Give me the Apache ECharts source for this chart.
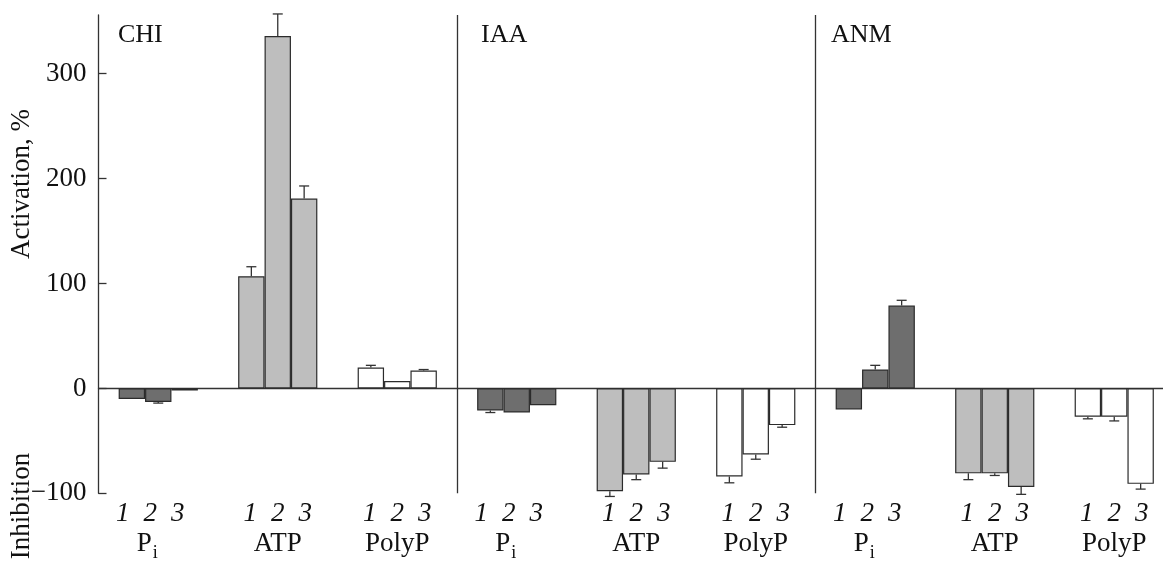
<!DOCTYPE html>
<html lang="en">
<head>
    <meta charset="UTF-8">
    <title>activation-inhibition</title>
    <script src="https://cdn.jsdelivr.net/npm/echarts@6/dist/echarts.min.js"></script>
    <style>
        html, body { margin: 0; padding: 0; background: #fff; }
    </style>
</head>
<body>
    <div id="main" style="width: 1163px;height:561px;"></div>

    <script>
        // panels (effectors) and the three substrates inside each panel
        var panels = ['CHI', 'IAA', 'ANM'];
        var groups = ['Pi', 'ATP', 'PolyP'];
        var categories = [];
        panels.forEach(function (p) {
            groups.forEach(function (g) { categories.push(p + '|' + g); });
        });

        // replicate 1, 2, 3 values per category (CHI Pi, ATP, PolyP, IAA ..., ANM ...)
        var rep1 = [-10, 107, 20, -21, -98, -84, -20, -81, -27];
        var rep2 = [-13, 336, 7, -23, -82, -63, 18, -81, -27];
        var rep3 = [-2, 181, 17, -16, -70, -35, 79, -94, -91];
        // error bar sizes
        var err1 = [0, 9, 2, 2, 5, 6, 0, 6, 2];
        var err2 = [1, 21, 0, 0, 5, 4.5, 4, 2, 4];
        var err3 = [0, 12, 1, 0, 6, 2, 5, 7, 5];

        var yTicks = [-100, 0, 100, 200, 300];
        var fills = ['#6e6e6e', '#bebebe', '#ffffff'];
        var font = 'Liberation Serif';
        var barW = 26.4;

        var myChart = echarts.init(document.getElementById('main'));

        function errData(vals, errs) {
            return vals.map(function (v, i) { return [i, v, errs[i]]; });
        }

        function errSeries(vals, errs, rep) {
            return {
                type: 'custom',
                xAxisIndex: 0,
                data: errData(vals, errs),
                encode: { x: 0, y: 1 },
                z: 3,
                silent: true,
                renderItem: function (params, api) {
                    var e = api.value(2);
                    if (!e) return;
                    var v = api.value(1);
                    var p0 = api.coord([api.value(0), v]);
                    var p1 = api.coord([api.value(0), v + (v < 0 ? -e : e)]);
                    var x = p0[0] + (rep - 1) * barW;
                    var st = { stroke: '#333', lineWidth: 1.3 };
                    return {
                        type: 'group',
                        children: [
                            { type: 'line', shape: { x1: x, y1: p0[1], x2: x, y2: p1[1] }, style: st },
                            { type: 'line', shape: { x1: x - 5, y1: p1[1], x2: x + 5, y2: p1[1] }, style: st }
                        ]
                    };
                }
            };
        }

        function barSeries(vals) {
            return {
                type: 'bar',
                data: vals,
                barWidth: barW,
                barGap: '0%',
                itemStyle: {
                    color: function (p) { return fills[p.dataIndex % 3]; },
                    borderColor: '#2b2b2b',
                    borderWidth: 1.2
                }
            };
        }

        var option = {
            animation: false,
            grid: { left: 98.5, top: 15, height: 478.3, width: 1075.5, outerBoundsMode: 'none', containLabel: false },
            xAxis: [
                {
                    type: 'category',
                    data: categories,
                    position: 'bottom',
                    axisLine: { show: false, onZero: false },
                    axisTick: { show: false },
                    splitLine: {
                        show: true,
                        interval: function (i) { return i === 3 || i === 6; },
                        lineStyle: { color: '#333', width: 1.3 }
                    },
                    axisLabel: {
                        interval: 0,
                        margin: 6,
                        color: '#111',
                        fontFamily: font,
                        formatter: function (val) {
                            var g = val.split('|')[1];
                            var digits = '{d|1}{d|2}{d|3}';
                            if (g === 'Pi') {
                                return digits + '{pad| }\n{g|P}{sub|i}{pad2| }';
                            }
                            return digits + '\n{g|' + g + '}';
                        },
                        rich: {
                            d: { fontFamily: font, fontStyle: 'italic', fontSize: 27, width: 27.5, align: 'center', lineHeight: 30, color: '#111' },
                            g: { fontFamily: font, fontSize: 27, lineHeight: 30, color: '#111' },
                            sub: { fontFamily: font, fontSize: 18, lineHeight: 30, padding: [18, 0, 0, 1], color: '#111' },
                            pad: { fontSize: 10, width: 16 },
                            pad2: { fontSize: 10, width: 22 }
                        }
                    }
                },
                {
                    type: 'category',
                    data: categories,
                    axisLine: { show: true, onZero: true, lineStyle: { color: '#333', width: 1.3 } },
                    axisTick: { show: false },
                    axisLabel: { show: false },
                    splitLine: { show: false }
                }
            ],
            yAxis: {
                type: 'value',
                min: -100,
                max: 356,
                axisLine: { show: true, lineStyle: { color: '#333', width: 1.3 } },
                axisTick: {
                    show: true,
                    inside: true,
                    length: 8,
                    customValues: yTicks,
                    lineStyle: { color: '#333', width: 1.3 }
                },
                axisLabel: {
                    customValues: yTicks,
                    margin: 12,
                    color: '#111',
                    fontFamily: font,
                    fontSize: 27,
                    formatter: function (v) { return v < 0 ? '\u2212' + Math.abs(v) : String(v); }
                },
                splitLine: { show: false }
            },
            graphic: [
                { type: 'text', left: 118, top: 22, style: { text: panels[0], font: '26px "Liberation Serif"', fill: '#111' } },
                { type: 'text', left: 481, top: 22, style: { text: panels[1], font: '26px "Liberation Serif"', fill: '#111' } },
                { type: 'text', left: 831, top: 22, style: { text: panels[2], font: '26px "Liberation Serif"', fill: '#111' } },
                {
                    type: 'text', x: 22, y: 184, rotation: Math.PI / 2,
                    style: { text: 'Activation, %', font: '27px "Liberation Serif"', fill: '#111', textAlign: 'center', textVerticalAlign: 'middle' }
                },
                {
                    type: 'text', x: 22, y: 506, rotation: Math.PI / 2,
                    style: { text: 'Inhibition', font: '27px "Liberation Serif"', fill: '#111', textAlign: 'center', textVerticalAlign: 'middle' }
                }
            ],
            series: [
                barSeries(rep1),
                barSeries(rep2),
                barSeries(rep3),
                errSeries(rep1, err1, 0),
                errSeries(rep2, err2, 1),
                errSeries(rep3, err3, 2)
            ]
        };

        myChart.setOption(option);
    </script>
</body>
</html>
